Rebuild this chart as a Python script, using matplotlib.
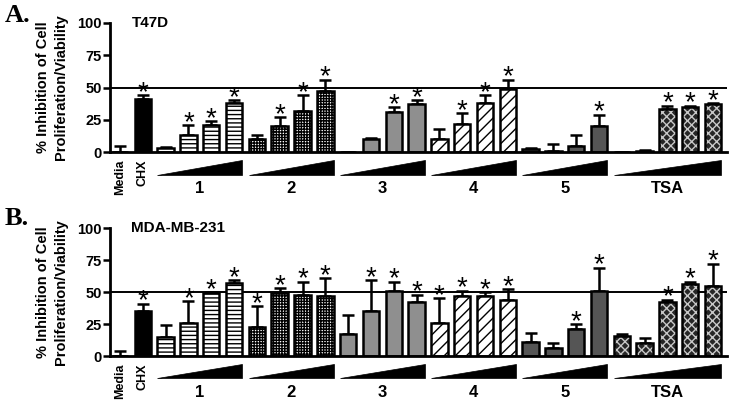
import matplotlib
matplotlib.use("Agg")
import matplotlib.pyplot as plt
import matplotlib.transforms as mtransforms
import numpy as np

plt.rcParams['font.family'] = ['Liberation Sans', 'DejaVu Sans']
plt.rcParams['font.weight'] = 'bold'
plt.rcParams['hatch.linewidth'] = 1.0

# ---------------- data ----------------
groups = ["1", "2", "3", "4", "5", "TSA"]
group_sizes = [4, 4, 4, 4, 4, 5]
controls = ["Media", "CHX"]

# Panel A (T47D): order Media, CHX, 1x4, 2x4, 3x4, 4x4, 5x4, TSAx5
t47d_vals = [0, 41, 3, 13, 21, 38, 10, 20, 32, 47, 0, 10, 31, 37,
             10, 22, 38, 49, 2, 1, 5, 20, 0, 1, 33, 35, 37]
t47d_err = [5, 3, 1, 8, 3, 2, 3, 7, 12, 9, 0, 0.5, 4, 3,
            8, 8, 6, 7, 1, 5, 8, 9, 0, 0.5, 3, 1, 1]
t47d_sig = [0, 1, 0, 1, 1, 1, 0, 1, 1, 1, 0, 0, 1, 1,
            0, 1, 1, 1, 0, 0, 0, 1, 0, 0, 1, 1, 1]

# Panel B (MDA-MB-231)
mda_vals = [0, 35, 15, 26, 49, 57, 23, 49, 48, 47, 17, 35, 51, 42,
            26, 47, 47, 44, 11, 6, 21, 51, 16, 10, 42, 56, 55]
mda_err = [4, 6, 9, 17, 1, 2, 16, 4, 10, 14, 15, 24, 7, 6,
           19, 4, 3, 8, 7, 4, 4, 18, 1.5, 4, 2, 2, 17]
mda_sig = [0, 1, 0, 1, 1, 1, 1, 1, 1, 1, 0, 1, 1, 1,
           1, 1, 1, 1, 0, 0, 1, 1, 0, 0, 1, 1, 1]

yticks = [0, 25, 50, 75, 100]
ylabel = "% Inhibition of Cell\nProliferation/Viability"

# ---------------- styles ----------------
group_styles = [
    dict(fc="white", hatch="----"),        # 1
    dict(fc="white", hatch="++++++"),      # 2
    dict(fc="#8f8f8f", hatch=None),        # 3
    dict(fc="white", hatch="///"),         # 4
    dict(fc="#555555", hatch=None),        # 5
    dict(fc="#262626", hatch="xxxx", hc="#c8c8c8"),  # TSA
]
ctrl_styles = [dict(fc="white", hatch=None), dict(fc="black", hatch=None)]

styles = list(ctrl_styles)
group_ranges = []
idx = len(controls)
for g, n in enumerate(group_sizes):
    group_ranges.append((idx, idx + n - 1))
    styles += [group_styles[g]] * n
    idx += n
x = np.arange(idx)
W = 0.72

fig = plt.figure(figsize=(7.35, 4.07), dpi=100)


def draw_panel(rect, vals, errs, sig, cell, letter, letter_y):
    ax = fig.add_axes(rect)
    ax.errorbar(x, vals, yerr=[np.zeros(len(errs)), errs], fmt="none",
                ecolor="black", elinewidth=1.8, capsize=4.5, capthick=1.8,
                zorder=2)
    for i in range(len(x)):
        st = styles[i]
        if st.get("hc"):
            ax.bar(x[i], vals[i], W, color=st["fc"], edgecolor=st["hc"],
                   hatch=st["hatch"], linewidth=0, zorder=3)
            ax.bar(x[i], vals[i], W, fill=False, edgecolor="black",
                   linewidth=1.8, zorder=4)
        else:
            ax.bar(x[i], vals[i], W, color=st["fc"], edgecolor="black",
                   hatch=st["hatch"], linewidth=1.8, zorder=3)
        if sig[i]:
            ax.annotate("*", (x[i], vals[i] + errs[i]), xytext=(0, -3.5),
                        textcoords="offset points", ha="center",
                        va="baseline", fontsize=20, fontweight="normal",
                        zorder=5)
    ax.axhline(50, color="black", linewidth=1.4, zorder=1)
    ax.set_xlim(-0.44, 26.61)
    ax.set_ylim(0, 100)
    ax.set_yticks(yticks)
    ax.set_yticklabels([str(t) for t in yticks], fontsize=10.5,
                       fontweight="bold")
    ax.tick_params(axis="y", length=5, width=1.8, direction="out", pad=1)
    ax.set_xticks([])
    for s in ["top", "right"]:
        ax.spines[s].set_visible(False)
    for s in ["left", "bottom"]:
        ax.spines[s].set_linewidth(2)
        ax.spines[s].set_zorder(6)

    trans = mtransforms.blended_transform_factory(ax.transData, ax.transAxes)
    for i, lab in enumerate(controls):
        ax.text(x[i], -0.055, lab, rotation=90, ha="center", va="top",
                fontsize=9, fontweight="bold", transform=trans)
    for (a, b), lab in zip(group_ranges, groups):
        xl, xr = x[a] - W / 2, x[b] + W / 2
        tri = plt.Polygon([(xl, -0.175), (xr, -0.175), (xr, -0.062)],
                          closed=True, facecolor="black", edgecolor="black",
                          linewidth=0.5, transform=trans, clip_on=False)
        ax.add_patch(tri)
        ax.text((xl + xr) / 2, -0.285, lab, ha="center", va="center",
                fontsize=12, fontweight="bold", transform=trans)
    ax.text(0.5, 100, cell, ha="left", va="center", fontsize=11,
            fontweight="bold", transform=ax.transData)
    fig.text(52 / 735, rect[1] + rect[3] / 2, ylabel, rotation=90,
             ha="center", va="center", fontsize=10.5, fontweight="bold",
             multialignment="center", linespacing=1.4)
    fig.text(5 / 735, letter_y, letter, ha="left", va="top",
             fontsize=19, fontweight="bold",
             family=["Liberation Serif", "DejaVu Serif"])
    return ax


L = 110 / 735
R = 727 / 735
draw_panel([L, 1 - 152 / 407, R - L, 129 / 407], t47d_vals, t47d_err,
           t47d_sig, "T47D", "A.", 1 - 4 / 407)
draw_panel([L, 1 - 356 / 407, R - L, 128 / 407], mda_vals, mda_err,
           mda_sig, "MDA-MB-231", "B.", 1 - 207 / 407)

fig.savefig("out.png", dpi=100)
